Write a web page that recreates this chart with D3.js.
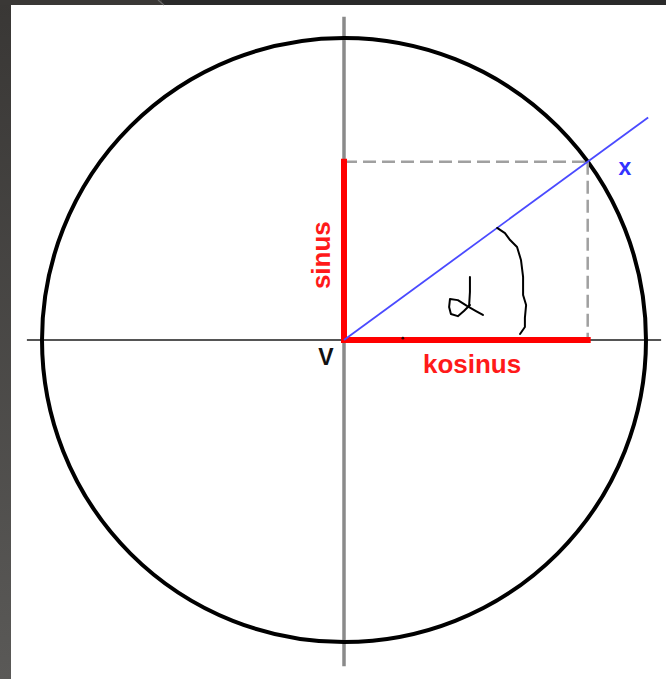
<!DOCTYPE html>
<html><head><meta charset="utf-8">
<script src="https://cdn.jsdelivr.net/npm/d3@7"></script>
<style>html,body{margin:0;padding:0;background:#fff;}svg{display:block;}</style>
</head><body>
<script>
// ---- data (unit-circle coordinates) ----
const angleDeg = [36.2];            // angle alpha
const radius = [1];                 // unit circle
const rayExtent = [1.248];          // blue ray length (in radii)
const axisX = [-1.05, 1.05];        // horizontal axis extent
const axisY = [-1.08, 1.07];        // vertical axis extent
const labels = ["sinus", "kosinus", "V", "x"];
const labelPos = [[-0.048, 0.281], [0.424, -0.109], [-0.060, -0.083], [0.930, 0.546]];
const alphaStroke1 = [[0.417,0.209],[0.417,0.159],[0.414,0.109]];
const alphaStroke2 = [[0.460,0.083],[0.437,0.096],[0.407,0.113],[0.377,0.132],[0.351,0.136],[0.348,0.109],[0.354,0.086],[0.377,0.079],[0.397,0.096],[0.417,0.116]];
const brace = [[0.507,0.371],[0.533,0.354],[0.550,0.331],[0.573,0.308],[0.586,0.265],[0.593,0.209],[0.593,0.149],[0.603,0.116],[0.599,0.073],[0.599,0.043],[0.583,0.020]];
const tickDot = [[0.195, 0.006]];

const W = 666, H = 679;
const svg = d3.select("body").append("svg").attr("width", W).attr("height", H);

// frame
const defs = svg.append("defs");
const lg = defs.append("linearGradient").attr("id","lg").attr("x1",0).attr("y1",0).attr("x2",0).attr("y2",1);
lg.append("stop").attr("offset","0%").attr("stop-color","#393735");
lg.append("stop").attr("offset","100%").attr("stop-color","#5a5957");
svg.append("rect").attr("x",0).attr("y",0).attr("width",11).attr("height",H).attr("fill","url(#lg)");
svg.append("rect").attr("x",0).attr("y",0).attr("width",162).attr("height",5).attr("fill","#3a3836");
svg.append("rect").attr("x",162).attr("y",0).attr("width",W-162).attr("height",5).attr("fill","#2a2a2a");
svg.append("line").attr("x1",158).attr("y1",0).attr("x2",164).attr("y2",5).attr("stroke","#6a6a6a").attr("stroke-width",1.2);

// scales
const R = 302, cx = 344, cy = 340;
const x = d3.scaleLinear().domain([-1, 1]).range([cx - R, cx + R]);
const y = d3.scaleLinear().domain([-1, 1]).range([cy + R, cy - R]);
const g = svg.append("g");

const a = angleDeg[0] * Math.PI / 180;
const c = Math.cos(a) * radius[0], s = Math.sin(a) * radius[0];

// axes
g.append("line").attr("x1", x(axisX[0])).attr("x2", x(axisX[1])).attr("y1", y(0)).attr("y2", y(0))
  .attr("stroke", "#555").attr("stroke-width", 2);
g.append("line").attr("x1", x(0)).attr("x2", x(0)).attr("y1", y(axisY[0])).attr("y2", y(axisY[1]))
  .attr("stroke", "#8a8a8a").attr("stroke-width", 3.5);

// circle
g.append("circle").attr("cx", x(0)).attr("cy", y(0)).attr("r", x(radius[0]) - x(0))
  .attr("fill", "none").attr("stroke", "#000").attr("stroke-width", 4);

// dashed projections
g.append("line").attr("x1", x(0)).attr("x2", x(c)).attr("y1", y(s)).attr("y2", y(s))
  .attr("stroke", "#a0a0a0").attr("stroke-width", 2.5).attr("stroke-dasharray", "13,6");
g.append("line").attr("x1", x(c)).attr("x2", x(c)).attr("y1", y(s)).attr("y2", y(0))
  .attr("stroke", "#a0a0a0").attr("stroke-width", 2.5).attr("stroke-dasharray", "13,6");

// sin & cos segments
g.append("line").attr("x1", x(0)).attr("x2", x(0)).attr("y1", y(0)).attr("y2", y(s))
  .attr("stroke", "#ff0000").attr("stroke-width", 6).attr("stroke-linecap", "square");
g.append("line").attr("x1", x(0)).attr("x2", x(c)).attr("y1", y(0)).attr("y2", y(0))
  .attr("stroke", "#ff0000").attr("stroke-width", 6).attr("stroke-linecap", "square");

// blue ray
g.append("line").attr("x1", x(0)).attr("y1", y(0))
  .attr("x2", x(Math.cos(a) * rayExtent[0])).attr("y2", y(Math.sin(a) * rayExtent[0]))
  .attr("stroke", "#4a4aff").attr("stroke-width", 1.8);

// handwritten alpha and brace
const line = d3.line().x(d => x(d[0])).y(d => y(d[1])).curve(d3.curveLinear);
[alphaStroke1, alphaStroke2, brace].forEach(pts => {
  g.append("path").attr("d", line(pts)).attr("fill", "none").attr("stroke", "#000")
    .attr("stroke-width", 2).attr("stroke-linejoin", "round").attr("stroke-linecap", "round");
});
g.selectAll(".dot").data(tickDot).enter().append("circle")
  .attr("cx", d => x(d[0])).attr("cy", d => y(d[1])).attr("r", 1.4).attr("fill", "#300");

// labels
const font = "'Liberation Sans', Arial, sans-serif";
g.append("text").text(labels[0]).attr("font-family", font).attr("font-weight", "bold").attr("font-size", 26)
  .attr("fill", "#ff1a1a").attr("text-anchor", "middle")
  .attr("transform", `translate(${x(labelPos[0][0])},${y(labelPos[0][1])}) rotate(-90)`);
g.append("text").text(labels[1]).attr("font-family", font).attr("font-weight", "bold").attr("font-size", 26)
  .attr("fill", "#ff1a1a").attr("text-anchor", "middle")
  .attr("x", x(labelPos[1][0])).attr("y", y(labelPos[1][1]));
g.append("text").text(labels[2]).attr("font-family", font).attr("font-weight", "bold").attr("font-size", 23)
  .attr("fill", "#111").attr("text-anchor", "middle")
  .attr("x", x(labelPos[2][0])).attr("y", y(labelPos[2][1]));
g.append("text").text(labels[3]).attr("font-family", font).attr("font-weight", "bold").attr("font-size", 23)
  .attr("fill", "#3333ff").attr("text-anchor", "middle")
  .attr("x", x(labelPos[3][0])).attr("y", y(labelPos[3][1]));
</script>
</body></html>
